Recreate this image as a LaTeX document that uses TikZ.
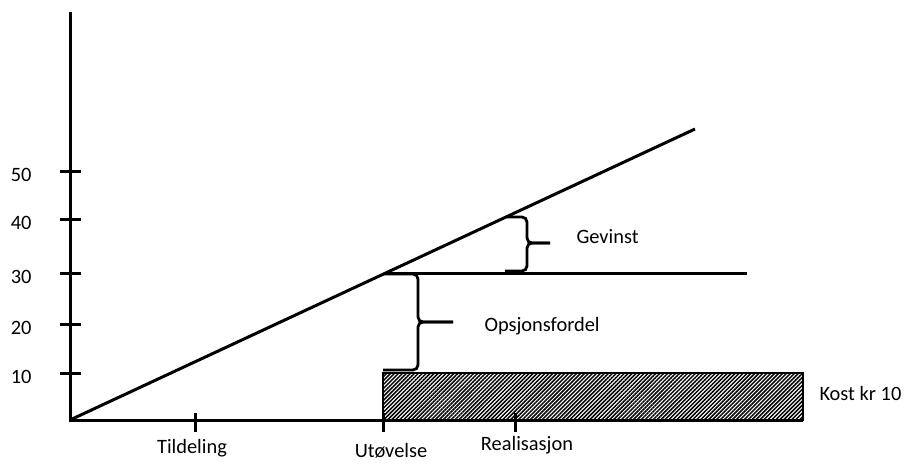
\documentclass[tikz,border=0pt]{standalone}
\usepackage{fontspec}
\setmainfont{Carlito}
\usetikzlibrary{patterns.meta}

\tikzset{
  lbl/.style={font=\fontsize{10.2}{12}\selectfont, inner sep=0pt},
  curly/.style={line width=1.4pt, rounded corners=2.5pt}
}

\begin{document}
\begin{tikzpicture}[x=0.5pt,y=0.5pt,line width=1.5pt]

\useasboundingbox (0,0) rectangle (906,463);

\coordinate (O) at (70,43);
\coordinate (ytop) at (70,451);
\coordinate (xend) at (803,43);
\coordinate (dend) at (695,334);
\coordinate (d30) at (386,190);
\coordinate (h30) at (747,190);

% cost box
\draw[line width=0.6pt, pattern={Lines[angle=45,distance=1.4pt,line width=0.75pt]}]
  (383,43) rectangle (803,90);
\node[lbl, anchor=base west] (kost) at (818,63) {Kost kr 10};

% axes
\draw (ytop) -- (O) -- (xend);

\foreach \y/\v in {90/10,139/20,190/30,244/40,292/50} {
  \draw (60,\y) -- (81,\y);
  \node[lbl, anchor=base east] (y\v) at (33,\y-10) {\v};
}

\foreach \x in {195,383,515}
\draw (\x,31) -- (\x,50);

\node[lbl, anchor=base] (tildeling) at (192,10) {Tildeling};
\node[lbl, anchor=base] (utovelse) at (391,6) {Utøvelse};
\node[lbl, anchor=base] (realisasjon) at (527,13) {Realisasjon};

% value line and exercise price
\draw (O) -- (dend);
\draw (d30) -- (h30);

% braces
\draw[curly] (383,189) -- (418,189) -- (418,141) -- (453,141);
\draw[curly] (453,141) -- (418,141) -- (418,93) -- (383,93);
\node[lbl, anchor=base west] (fordel) at (483,132) {Opsjonsfordel};

\draw[curly] (507,246) -- (527,246) -- (527,220) -- (550,220);
\draw[curly] (550,220) -- (527,220) -- (527,192) -- (505,192);
\node[lbl, anchor=base west] (gevinst) at (575,220) {Gevinst};

\end{tikzpicture}
\end{document}
